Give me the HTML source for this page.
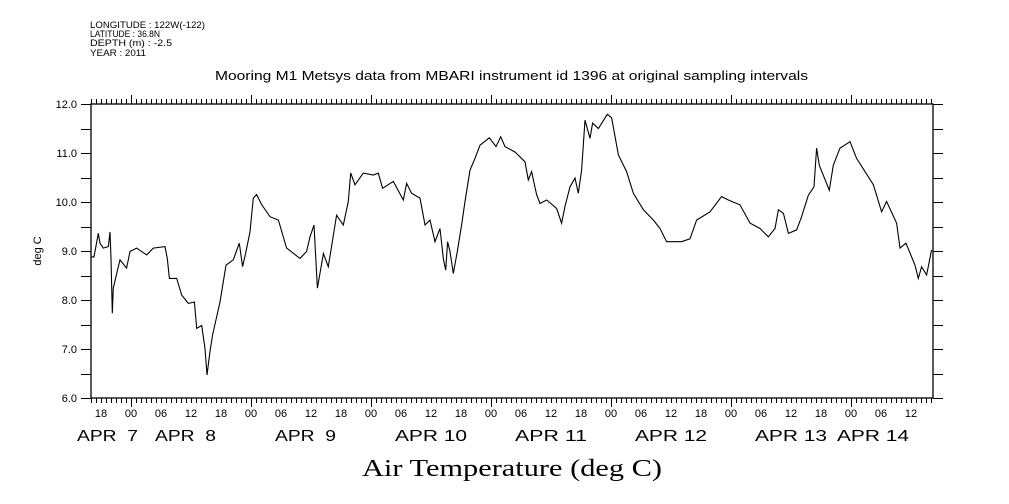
<!DOCTYPE html>
<html><head><meta charset="utf-8"><style>
html,body{margin:0;padding:0;background:#fff;}
svg{display:block;font-family:"Liberation Sans",sans-serif;}
</style></head><body>
<svg id="chart" width="1009" height="504" xmlns="http://www.w3.org/2000/svg">
<g font-size="9" fill="#000">
<text x="90" y="28" textLength="115" lengthAdjust="spacingAndGlyphs">LONGITUDE : 122W(-122)</text>
<text x="90" y="37" textLength="70" lengthAdjust="spacingAndGlyphs">LATITUDE : 36.8N</text>
<text x="90" y="46" textLength="82" lengthAdjust="spacingAndGlyphs">DEPTH (m) : -2.5</text>
<text x="90" y="56" textLength="56" lengthAdjust="spacingAndGlyphs">YEAR : 2011</text>
</g>
<text x="215" y="80" textLength="593" lengthAdjust="spacingAndGlyphs" font-size="13">Mooring M1 Metsys data from MBARI instrument id 1396 at original sampling intervals</text>
<text x="362" y="476" textLength="300" lengthAdjust="spacingAndGlyphs" font-size="24" font-family="Liberation Serif, serif">Air Temperature (deg C)</text>
<text transform="translate(41,251) rotate(-90)" text-anchor="middle" font-size="11">deg C</text>
<g id="axes"></g>
<g id="series"></g>
</svg>
<script>
// hours since APR 7 00:00
const hours = [16,16.6,17.47,17.8,18.47,19.47,19.8,20.0,20.27,20.47,21.0,21.8,23.13,23.8,25.13,27.13,28.47,30.8,31.27,31.67,33.13,34.13,35.47,36.67,37.13,38.13,38.8,39.2,39.8,40.33,41.8,43.0,44.47,45.67,46.33,47.0,47.8,48.47,49.13,50.13,51.8,53.47,55.13,57.8,59.13,59.8,60.6,61.27,62.47,63.47,65.13,66.47,67.47,67.93,68.8,70.47,72.47,73.47,74.33,76.47,78.47,79.13,80.13,81.8,82.8,83.8,84.8,85.8,86.47,86.93,87.33,87.8,88.47,89.27,90.13,90.8,91.8,92.8,93.8,95.67,97.0,97.93,98.8,100.8,102.8,103.47,104.13,105.13,105.8,107.13,109.13,110.13,110.8,111.8,112.8,113.47,114.13,114.8,115.8,116.33,117.47,119.27,120.13,121.47,123.13,124.47,126.47,128.47,129.8,131.13,134.13,135.8,137.13,139.8,142.13,143.47,145.8,147.8,149.8,151.47,152.8,153.47,154.47,155.47,157.13,158.13,159.47,160.6,161.13,161.67,163.67,164.47,165.8,167.8,169.13,170.8,172.47,174.13,175.13,177.13,177.8,179.0,180.8,181.47,182.13,183.13,184.13];
const temps = [8.88,8.88,9.36,9.16,9.06,9.09,9.39,8.85,7.73,8.24,8.48,8.82,8.65,8.99,9.06,8.92,9.06,9.09,8.85,8.44,8.44,8.10,7.93,7.96,7.42,7.48,7.01,6.47,6.95,7.29,7.96,8.71,8.82,9.16,8.68,8.99,9.39,10.08,10.15,9.95,9.70,9.63,9.06,8.85,8.99,9.29,9.53,8.24,8.95,8.68,9.73,9.53,10.01,10.59,10.35,10.59,10.55,10.59,10.28,10.42,10.04,10.38,10.18,10.08,9.53,9.63,9.19,9.46,8.85,8.61,9.19,8.99,8.54,8.99,9.53,10.01,10.65,10.89,11.16,11.31,11.13,11.33,11.13,11.02,10.82,10.45,10.62,10.15,9.97,10.04,9.87,9.57,9.91,10.31,10.49,10.18,10.65,11.67,11.30,11.61,11.50,11.79,11.72,10.96,10.62,10.18,9.84,9.63,9.46,9.19,9.19,9.25,9.63,9.80,10.11,10.04,9.94,9.57,9.46,9.29,9.46,9.84,9.77,9.36,9.43,9.70,10.14,10.31,11.10,10.75,10.24,10.75,11.10,11.23,10.89,10.62,10.35,9.80,10.01,9.57,9.06,9.16,8.71,8.44,8.68,8.51,9.02];
const yTicks = [6,7,8,9,10,11,12];
const yTickLabels = ["6.0","7.0","8.0","9.0","10.0","11.0","12.0"];
const hourLabels = ["18","00","06","12","18","00","06","12","18","00","06","12","18","00","06","12","18","00","06","12","18","00","06","12","18","00","06","12","18","00","06","12","18","00","06","12"];
const dateLabels = ["APR  7","APR  8","APR  9","APR 10","APR 11","APR 12","APR 13","APR 14"];
const dateLabelX = [77,155,275,395,515,635,755,837];

const L=91,R=933,T=104,B=398, H0=16, H1=184.4, YMIN=6, YMAX=12;
const xs=h=>L+(h-H0)/(H1-H0)*(R-L);
const ys=v=>B-(v-YMIN)/(YMAX-YMIN)*(B-T);
const NS="http://www.w3.org/2000/svg";
const axes=document.getElementById('axes');
function mk(tag,attrs,parent){const e=document.createElementNS(NS,tag);for(const k in attrs)e.setAttribute(k,attrs[k]);parent.appendChild(e);return e;}

const frame=mk('rect',{x:L,y:T,width:R-L,height:B-T,fill:'none',stroke:'#000','stroke-width':1.3},axes);



let tp='';
for(let h=Math.ceil(H0);h<=H1;h++){
  const x=Math.round(xs(h))+0.5;
  const major=(h%24===0);
  const len=major?9:5;
  tp+=`M${x},${T}V${T-len}M${x},${B}V${B+len}`;
}
for(let v=YMIN;v<=YMAX+1e-9;v+=0.5){
  const y=Math.round(ys(v))+0.5;
  tp+=`M${L},${y}H${L-10}M${R},${y}H${R+10}`;
}
const ticks=mk('path',{d:tp,stroke:'#000','stroke-width':1,fill:'none'},axes);



yTicks.forEach((v,i)=>{
  const t=mk('text',{x:77,y:ys(v)+4,'text-anchor':'end','font-size':11},axes);
  t.textContent=yTickLabels[i];
  
  
});
hourLabels.forEach((lab,i)=>{
  const h=18+6*i;
  if(h>H1)return;
  const t=mk('text',{x:xs(h),y:417,'text-anchor':'middle','font-size':11},axes);
  t.textContent=lab;
  
  
});
dateLabels.forEach((lab,i)=>{
  const t=mk('text',{x:dateLabelX[i],y:441,'font-size':16,textLength:(lab.endsWith(' 7')||lab.endsWith(' 8')||lab.endsWith(' 9'))?61:72,lengthAdjust:'spacingAndGlyphs'},axes);
  t.setAttribute('style','white-space:pre');
  t.textContent=lab;
  
  
});

const pts=hours.map((h,i)=>xs(h).toFixed(1)+','+ys(temps[i]).toFixed(1)).join(' ');
const line=mk('polyline',{points:pts,fill:'none',stroke:'#000','stroke-width':1.1,'stroke-linejoin':'miter'},document.getElementById('series'));


</script>
</body></html>
